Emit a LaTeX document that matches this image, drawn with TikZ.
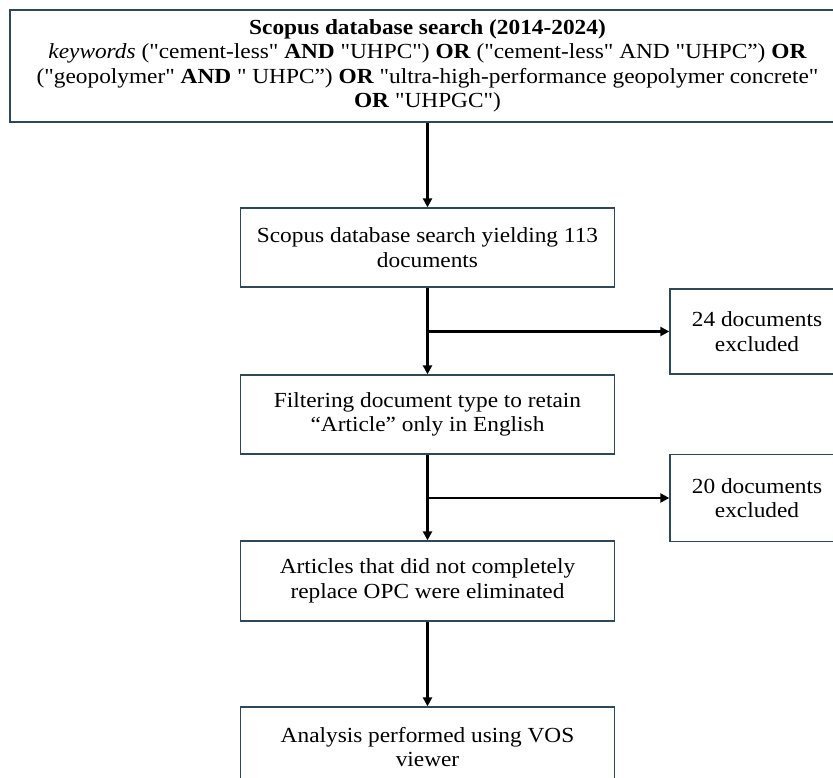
\documentclass[tikz,border=0pt]{standalone}
\usepackage{fontspec}
\setmainfont{Liberation Serif}[Ligatures=TeXOff, FakeStretch=1.085]
\usepackage{tikz}
\usetikzlibrary{positioning}
\usetikzlibrary{arrows.meta}
\definecolor{boxline}{HTML}{2F4858}

\begin{document}
\begin{tikzpicture}[x=1pt,y=-1pt,
        box/.style={draw=boxline, line width=1.3pt, inner sep=0pt, align=center,
                    font=\fontsize{21.5}{24.5}\selectfont},
        arr/.style={-{Triangle[length=9pt,width=9pt]}, line width=2.2pt}]
        \useasboundingbox (0,0) rectangle (833,778);

        \node (1)[box, minimum width=835pt, minimum height=112pt] at (427.5,66)
            {\textbf{Scopus database search (2014-2024)}\\
             \textit{keywords} ("cement-less" \textbf{AND} "UHPC") \textbf{OR} ("cement-less" AND "UHPC”) \textbf{OR}\\
             ("geopolymer" \textbf{AND} " UHPC”) \textbf{OR} "ultra-high-performance geopolymer concrete"\\
             \textbf{OR} "UHPGC")};
        \node (2)[box, minimum width=374pt, minimum height=79pt] at (427.5,247.5)
            {Scopus database search yielding 113\\documents};
        \node (3)[box, minimum width=374pt, minimum height=79pt] at (427.5,414.5)
            {Filtering document type to retain\\“Article” only in English};
        \node (4)[box, minimum width=374pt, minimum height=80pt] at (427.5,581)
            {Articles that did not completely\\replace OPC were eliminated};
        \node (5)[box, minimum width=374pt, minimum height=80pt] at (427.5,747)
            {Analysis performed using VOS\\viewer};
        \node (6)[box, minimum width=174pt, minimum height=85pt] at (757,331.5)
            {24 documents\\excluded};
        \node (7)[box, minimum width=174pt, minimum height=87pt] at (757,498)
            {20 documents\\excluded};

        \coordinate (b1) at (427.5,331.5);
        \coordinate (b2) at (427.5,498);

        \draw[arr] (1) -- (2);
        \draw[arr] (2) -- (3);
        \draw[arr] (b1) -- (6);
        \draw[arr] (3) -- (4);
        \draw[arr] (b2) -- (7);
        \draw[arr] (4) -- (5);

    \end{tikzpicture}
\end{document}
